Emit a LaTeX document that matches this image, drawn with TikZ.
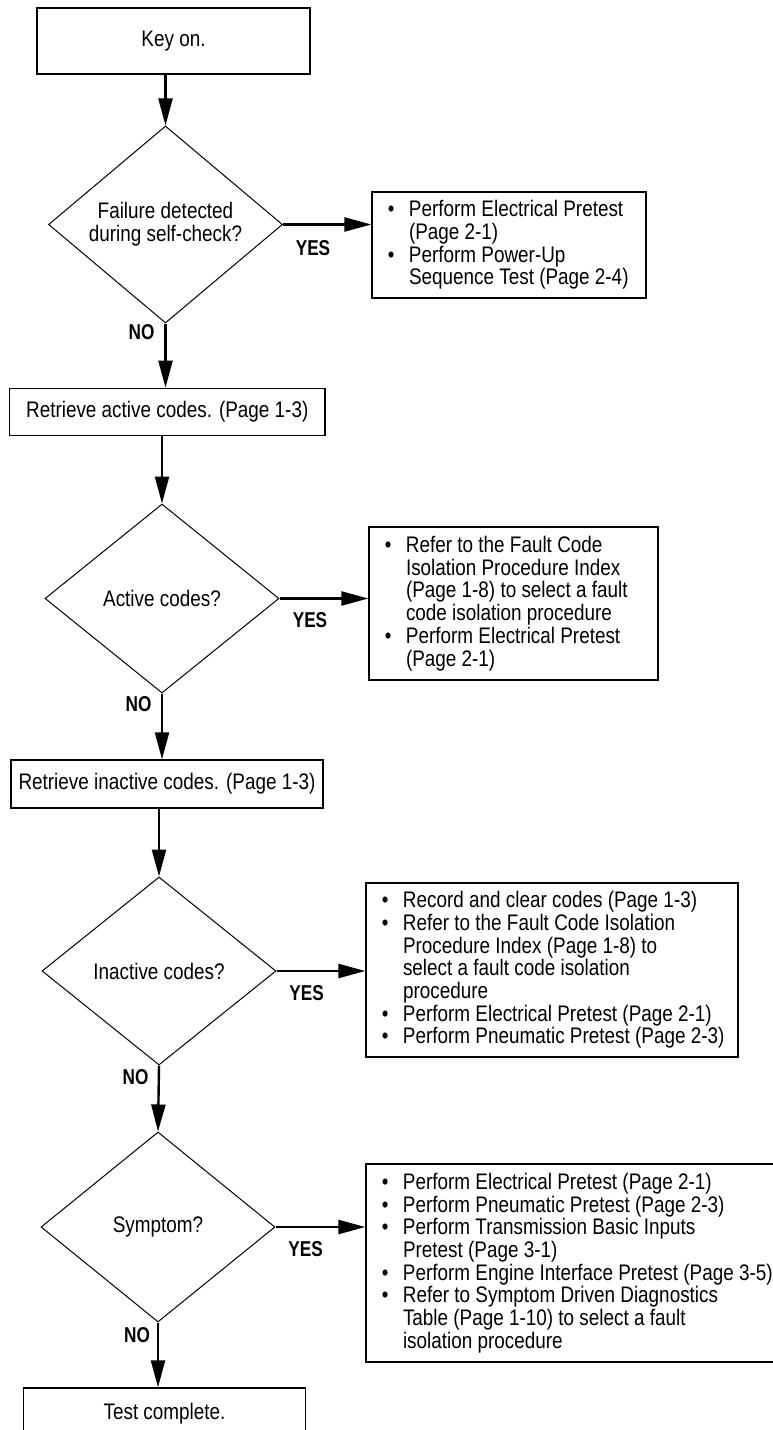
\documentclass[tikz,border=0pt]{standalone}
\usepackage{fontspec}
\setmainfont[FakeStretch=0.84]{Liberation Sans}
\newfontfamily\ynfont[FakeStretch=0.8]{Liberation Sans}
\usetikzlibrary{shapes.geometric,arrows.meta}
% bullet hanging to the left of the list text
\newcommand{\bul}{\leavevmode\llap{\textbullet\hspace{14.5pt}}}
% action list set ragged right, indented from the left edge of its box
\newcommand{\actionlist}[2]{\parbox{#1}{\leftskip=37pt\relax
  \rightskip=-80pt plus 1fil\relax\parindent=0pt\relax #2}}

\begin{document}
\begin{tikzpicture}[x=1pt,y=-1pt,
  every node/.style={font=\fontsize{22.5}{22.7}\selectfont},
  box/.style={draw, line width=1.3pt, inner sep=0pt, align=center},
  decision/.style={draw, diamond, line width=1pt, minimum width=234pt,
    minimum height=188pt, inner sep=0pt, align=center},
  listbox/.style={draw, line width=1.3pt, inner sep=0pt},
  flow/.style={line width=2.4pt, -{Triangle[length=27pt,width=14pt]}},
  yn/.style={font=\ynfont\bfseries\fontsize{21.5}{21.5}\selectfont, inner sep=0pt}
]
\path[use as bounding box] (0,0) rectangle (773,1430);
\clip (0,0) rectangle (773,1430);

% steps and decisions
\node[box, minimum width=273pt, minimum height=66pt] (key) at (173.5,41) {Key on.};
\node[decision] (d1) at (165.5,224.5) {Failure detected\\during self-check?};
\node[listbox, minimum width=274pt, minimum height=106pt] (r1) at (509,245)
  {\actionlist{274pt}{\bul Perform Electrical Pretest\\(Page 2-1)\\\bul Perform Power-Up\\Sequence Test (Page 2-4)}};

\node[box, minimum width=315.5pt, minimum height=47.5pt] (ac) at (167.25,412) {Retrieve active codes. (Page 1-3)};
\node[decision, minimum height=189pt] (d2) at (162,598.5) {Active codes?};
\node[listbox, minimum width=289pt, minimum height=153pt] (r2) at (513.5,603.5)
  {\actionlist{289pt}{\bul Refer to the Fault Code\\Isolation Procedure Index\\(Page 1-8) to select a fault\\code isolation procedure\\\bul Perform Electrical Pretest\\(Page 2-1)}};

\node[box, minimum width=312pt, minimum height=48pt] (ic) at (167,784) {Retrieve inactive codes. (Page 1-3)};
\node[decision] (d3) at (159,971) {Inactive codes?};
\node[listbox, minimum width=372pt, minimum height=174pt] (r3) at (552,970)
  {\actionlist{372pt}{\bul Record and clear codes (Page 1-3)\\\bul Refer to the Fault Code Isolation\\Procedure Index (Page 1-8) to\\select a fault code isolation\\procedure\\\bul Perform Electrical Pretest (Page 2-1)\\\bul Perform Pneumatic Pretest (Page 2-3)}};

\node[decision, minimum height=190pt] (d4) at (158,1227) {Symptom?};
\node[listbox, minimum width=424pt, minimum height=198pt] (r4) at (578,1263)
  {\actionlist{424pt}{\bul Perform Electrical Pretest (Page 2-1)\\\bul Perform Pneumatic Pretest (Page 2-3)\\\bul Perform Transmission Basic Inputs\\Pretest (Page 3-1)\\\bul Perform Engine Interface Pretest (Page 3-5)\\\bul Refer to Symptom Driven Diagnostics\\Table (Page 1-10) to select a fault\\isolation procedure}};

\node[box, minimum width=282pt, minimum height=52pt] (tc) at (164.5,1414) {Test complete.};

% connectors
\draw[flow] (key.south -| d1.north) -- (d1.north);
\draw[flow] (d1.east) -- (d1.east -| r1.west);
\draw[flow] (d1.south) -- (d1.south |- ac.north);
\draw[flow] (ac.south -| d2.north) -- (d2.north);
\draw[flow] (d2.east) -- (d2.east -| r2.west);
\draw[flow] (d2.south) -- (d2.south |- ic.north);
\draw[flow] (ic.south -| d3.north) -- (d3.north);
\draw[flow] (d3.east) -- (d3.east -| r3.west);
\draw[flow] (d3.south) -- (d4.north);
\draw[flow] (d4.east) -- (d4.east -| r4.west);
\draw[flow] (d4.south) -- (d4.south |- tc.north);

% branch labels
\node[yn] (y1) at (313,248) {YES};
\node[yn] (n1) at (141.5,332) {NO};
\node[yn] (y2) at (310,620) {YES};
\node[yn] (n2) at (138.6,704) {NO};
\node[yn] (y3) at (306.7,993) {YES};
\node[yn] (n3) at (135.6,1077) {NO};
\node[yn] (y4) at (305.7,1249) {YES};
\node[yn] (n4) at (137,1335) {NO};
\end{tikzpicture}
\end{document}
